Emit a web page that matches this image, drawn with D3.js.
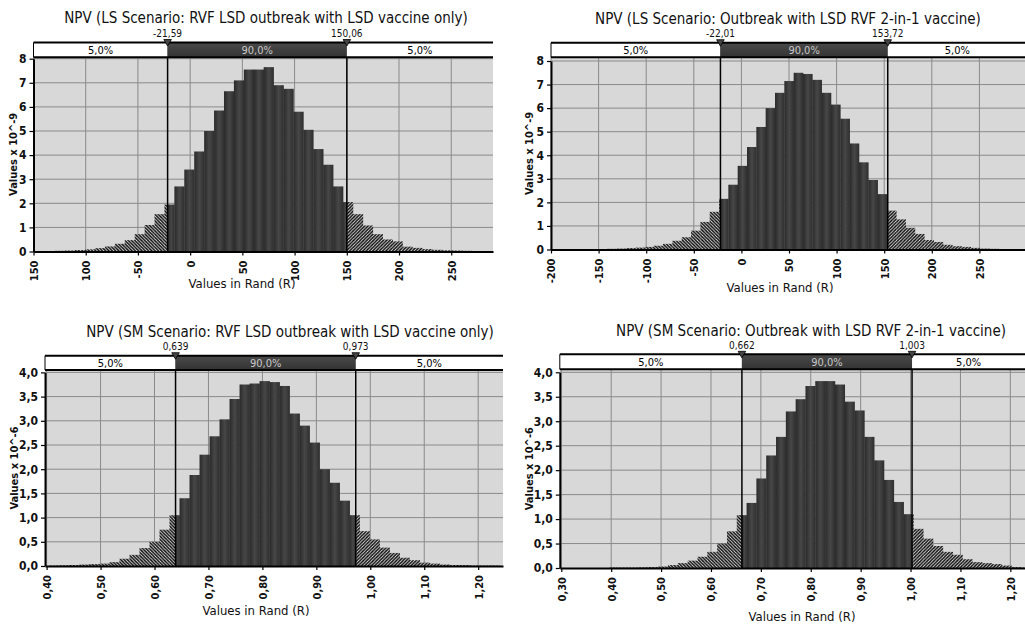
<!DOCTYPE html>
<html>
<head>
<meta charset="utf-8">
<script src="https://cdn.jsdelivr.net/npm/d3@7"></script>
<style>
  body { margin: 0; background: #fff; }
  svg { display: block; }
</style>
</head>
<body>
<script>
// chart values
const titles = [
  "NPV (LS Scenario: RVF LSD outbreak with LSD vaccine only)",
  "NPV (LS Scenario: Outbreak with LSD RVF 2-in-1 vaccine)",
  "NPV (SM Scenario: RVF LSD outbreak with LSD  vaccine only)",
  "NPV (SM Scenario: Outbreak with LSD RVF 2-in-1 vaccine)"
];
const xTitle = "Values in Rand (R)";
const yTitles = ["Values x 10^-9", "Values x 10^-9", "Values x 10^-6", "Values x 10^-6"];
const bandLabels = ["5,0%", "90,0%", "5,0%"];

const lowCuts = [-21.59, -22.01, 0.639, 0.662];
const highCuts = [150.06, 153.72, 0.973, 1.003];
const lowCutLabels = ["-21,59", "-22,01", "0,639", "0,662"];
const highCutLabels = ["150,06", "153,72", "0,973", "1,003"];

const xDomains = [[-150, 290], [-200, 300], [0.397, 1.246], [0.297, 1.23]];
const yMaxes = [8, 8, 4, 4];

const binStarts = [-138.6, -170.5, 0.4052, 0.3960];
const binWidths = [9.5, 9.8, 0.01855, 0.01967];

const heights1 = [0.02, 0.03, 0.04, 0.06, 0.09, 0.14, 0.21, 0.32, 0.47, 0.72, 1.1, 1.55,
  1.95, 2.7, 3.4, 4.15, 5.0, 5.85, 6.65, 7.1, 7.55, 7.55, 7.65, 6.9, 6.75, 5.8, 5.05, 4.25, 3.6, 2.7, 2.05,
  1.55, 1.08, 0.72, 0.5, 0.42, 0.2, 0.15, 0.1, 0.07, 0.05, 0.04, 0.03, 0.02];
const heights2 = [0.01, 0.02, 0.02, 0.03, 0.04, 0.06, 0.08, 0.11, 0.16, 0.24, 0.37, 0.52, 0.8, 1.17, 1.6,
  2.15, 2.75, 3.55, 4.35, 5.2, 6.0, 6.65, 7.15, 7.5, 7.45, 7.2, 6.65, 6.15, 5.55, 4.5, 3.7, 2.95, 2.35,
  1.65, 1.28, 0.92, 0.66, 0.4, 0.32, 0.2, 0.14, 0.11, 0.07, 0.04, 0.03, 0.02, 0.01];
const heights3 = [0.01, 0.015, 0.02, 0.03, 0.04, 0.05, 0.08, 0.15, 0.23, 0.37, 0.5, 0.75,
  1.05, 1.4, 1.88, 2.3, 2.68, 3.03, 3.45, 3.75, 3.77, 3.82, 3.8, 3.72, 3.15, 2.9, 2.55, 2.0, 1.72, 1.35, 1.05,
  0.72, 0.55, 0.38, 0.27, 0.17, 0.12, 0.07, 0.05, 0.03, 0.02, 0.02, 0.01, 0.01, 0.01];
const heights4 = [0.01, 0.01, 0.01, 0.015, 0.02, 0.03, 0.06, 0.1, 0.15, 0.23, 0.33, 0.5, 0.75,
  1.08, 1.33, 1.83, 2.3, 2.68, 3.2, 3.45, 3.72, 3.82, 3.82, 3.75, 3.4, 3.22, 2.68, 2.2, 1.8, 1.35, 1.1,
  0.8, 0.6, 0.45, 0.33, 0.27, 0.18, 0.12, 0.1, 0.08, 0.05, 0.02, 0.01];
const heights = [heights1, heights2, heights3, heights4];

const xTicks1 = [-150, -100, -50, 0, 50, 100, 150, 200, 250];
const xTickLabels1 = ["150", "100", "-50", "0", "50", "100", "150", "200", "250"];
const xTicks2 = [-200, -150, -100, -50, 0, 50, 100, 150, 200, 250];
const xTickLabels2 = ["-200", "-150", "-100", "-50", "0", "50", "100", "150", "200", "250"];
const xTicks3 = [0.4, 0.5, 0.6, 0.7, 0.8, 0.9, 1.0, 1.1, 1.2];
const xTickLabels3 = ["0,40", "0,50", "0,60", "0,70", "0,80", "0,90", "1,00", "1,10", "1,20"];
const xTicks4 = [0.3, 0.4, 0.5, 0.6, 0.7, 0.8, 0.9, 1.0, 1.1, 1.2];
const xTickLabels4 = ["0,30", "0,40", "0,50", "0,60", "0,70", "0,80", "0,90", "1,00", "1,10", "1,20"];
const xTicks = [xTicks1, xTicks2, xTicks3, xTicks4];
const xTickLabels = [xTickLabels1, xTickLabels2, xTickLabels3, xTickLabels4];

const yTicksLS = [0, 1, 2, 3, 4, 5, 6, 7, 8];
const yTickLabelsLS = ["0", "1", "2", "3", "4", "5", "6", "7", "8"];
const yTicksSM = [0, 0.5, 1, 1.5, 2, 2.5, 3, 3.5, 4];
const yTickLabelsSM = ["0,0", "0,5", "1,0", "1,5", "2,0", "2,5", "3,0", "3,5", "4,0"];
const yTicks = [yTicksLS, yTicksLS, yTicksSM, yTicksSM];
const yTickLabels = [yTickLabelsLS, yTickLabelsLS, yTickLabelsSM, yTickLabelsSM];

// layout of the four panels (pixels)
const layout = [
  {left: 33.5, right: 493, base: 251.5, yTop: 58.7, bandTop: 42.5, bandBot: 57.2, titleX: 266, titleY: 22.5, xtX: 242, xtY: 288, ytX: 13},
  {left: 551, right: 1027, base: 249.5, yTop: 61, bandTop: 42.7, bandBot: 57.3, titleX: 788, titleY: 23.5, xtX: 780, xtY: 292, ytX: 529},
  {left: 45, right: 503, base: 566, yTop: 372.4, bandTop: 355.7, bandBot: 370, titleX: 290, titleY: 336.5, xtX: 256, xtY: 615, ytX: 14},
  {left: 559.8, right: 1025.3, base: 568, yTop: 372.3, bandTop: 354.3, bandBot: 369.3, titleX: 811, titleY: 336, xtX: 802, xtY: 621, ytX: 529}
];

const font = "'DejaVu Sans Condensed', 'DejaVu Sans', sans-serif";
const W = 1025, H = 626;

const svg = d3.select("body").append("svg")
  .attr("width", W)
  .attr("height", H)
  .attr("viewBox", [0, 0, W, H])
  .style("font-family", font);

const defs = svg.append("defs");

// hatching for the tails
function hatch(id, d) {
  const p = defs.append("pattern")
    .attr("id", id)
    .attr("patternUnits", "userSpaceOnUse")
    .attr("width", 3.3).attr("height", 3.3);
  p.append("rect").attr("width", 3.3).attr("height", 3.3).attr("fill", "#e4e4e4");
  p.append("path").attr("d", d).attr("stroke", "#0c0c0c").attr("stroke-width", 1.45);
}
hatch("hatchL", "M-1,-1 L4.3,4.3 M-1,2.3 L1,4.3 M2.3,-1 L4.3,1");
hatch("hatchR", "M-1,4.3 L4.3,-1 M-1,1 L1,-1 M2.3,4.3 L4.3,2.3");

const grad = defs.append("linearGradient").attr("id", "barGrad")
  .attr("x1", 0).attr("x2", 1).attr("y1", 0).attr("y2", 0);
grad.append("stop").attr("offset", 0).attr("stop-color", "#2a2a2a");
grad.append("stop").attr("offset", 0.5).attr("stop-color", "#474747");
grad.append("stop").attr("offset", 1).attr("stop-color", "#2e2e2e");

const bandGrad = defs.append("linearGradient").attr("id", "bandGrad")
  .attr("x1", 0).attr("x2", 0).attr("y1", 0).attr("y2", 1);
bandGrad.append("stop").attr("offset", 0).attr("stop-color", "#4a4a4a");
bandGrad.append("stop").attr("offset", 1).attr("stop-color", "#333");

function drawPanel(i) {
  const L = layout[i];
  const lo = lowCuts[i], hi = highCuts[i];
  const x = d3.scaleLinear().domain(xDomains[i]).range([L.left, L.right]);
  const y = d3.scaleLinear().domain([0, yMaxes[i]]).range([L.base, L.yTop]);
  const g = svg.append("g");

  defs.append("clipPath").attr("id", "clip" + i)
    .append("rect")
    .attr("x", L.left).attr("y", L.bandBot)
    .attr("width", L.right - L.left).attr("height", L.base - L.bandBot);

  // plot background
  g.append("rect")
    .attr("x", L.left).attr("y", L.bandBot)
    .attr("width", L.right - L.left).attr("height", L.base - L.bandBot)
    .attr("fill", "#d8d8d8");

  // grid
  g.append("g").selectAll("line").data(xTicks[i]).join("line")
    .attr("x1", d => x(d)).attr("x2", d => x(d))
    .attr("y1", L.bandBot).attr("y2", L.base)
    .attr("stroke", "#8a8a8a").attr("stroke-width", 1);
  g.append("g").selectAll("line").data(yTicks[i].slice(1)).join("line")
    .attr("x1", L.left).attr("x2", L.right)
    .attr("y1", d => y(d)).attr("y2", d => y(d))
    .attr("stroke", "#8a8a8a").attr("stroke-width", 1);

  // bars split into hatched tails and the dark 90% part
  const segs = [];
  heights[i].forEach((h, k) => {
    const a = binStarts[i] + k * binWidths[i];
    const b = a + binWidths[i];
    if (a < lo) segs.push({a: a, b: Math.min(b, lo), h: h, fill: "url(#hatchL)"});
    if (b > lo && a < hi) segs.push({a: Math.max(a, lo), b: Math.min(b, hi), h: h, fill: "url(#barGrad)"});
    if (b > hi) segs.push({a: Math.max(a, hi), b: b, h: h, fill: "url(#hatchR)"});
  });
  g.append("g").attr("clip-path", "url(#clip" + i + ")")
    .selectAll("rect").data(segs).join("rect")
    .attr("x", d => x(d.a))
    .attr("width", d => x(d.b) - x(d.a) + 0.3)
    .attr("y", d => y(d.h))
    .attr("height", d => y(0) - y(d.h))
    .attr("fill", d => d.fill);

  // percentile lines
  g.append("g").selectAll("line").data([lo, hi]).join("line")
    .attr("x1", d => x(d)).attr("x2", d => x(d))
    .attr("y1", L.bandTop).attr("y2", L.base)
    .attr("stroke", "#000").attr("stroke-width", 1.5);

  // axes
  const xAxis = d3.axisBottom(x)
    .tickValues(xTicks[i])
    .tickFormat((d, k) => xTickLabels[i][k])
    .tickSize(4).tickSizeOuter(0);
  const gx = g.append("g").attr("transform", `translate(0,${L.base})`).call(xAxis);
  gx.select(".domain").attr("stroke", "#000").attr("stroke-width", 2);
  gx.selectAll(".tick line").attr("stroke", "#000").attr("stroke-width", 1.2);
  gx.selectAll(".tick text")
    .attr("transform", "rotate(-90)")
    .attr("text-anchor", "end")
    .attr("x", -9).attr("y", 0).attr("dy", "0.35em")
    .style("font-family", font)
    .style("font-size", "11px").style("font-weight", "bold").attr("fill", "#111");

  const yAxis = d3.axisLeft(y)
    .tickValues(yTicks[i])
    .tickFormat((d, k) => yTickLabels[i][k])
    .tickSize(4).tickPadding(3).tickSizeOuter(0);
  const gy = g.append("g").attr("transform", `translate(${L.left},0)`).call(yAxis);
  gy.select(".domain").attr("stroke", "#000").attr("stroke-width", 2);
  gy.selectAll(".tick line").attr("stroke", "#000").attr("stroke-width", 1.2);
  gy.selectAll(".tick text")
    .style("font-family", font)
    .style("font-size", "12px").style("font-weight", "bold").attr("fill", "#111");

  // band bar above the plot
  const bh = L.bandBot - L.bandTop;
  const band = g.append("g");
  const parts = [[L.left, x(lo)], [x(lo), x(hi)], [x(hi), L.right]];
  band.selectAll("rect").data(parts).join("rect")
    .attr("x", d => d[0]).attr("y", L.bandTop)
    .attr("width", d => d[1] - d[0]).attr("height", bh)
    .attr("fill", (d, k) => k === 1 ? "url(#bandGrad)" : "#fff");
  band.selectAll("text").data(parts).join("text")
    .attr("x", d => (d[0] + d[1]) / 2)
    .attr("y", L.bandTop + bh / 2 + 4)
    .attr("text-anchor", "middle")
    .style("font-size", "11px")
    .attr("fill", (d, k) => k === 1 ? "#c8c8c8" : "#000")
    .text((d, k) => bandLabels[k]);
  band.append("line")
    .attr("x1", L.left).attr("x2", L.right).attr("y1", L.bandTop).attr("y2", L.bandTop)
    .attr("stroke", "#000").attr("stroke-width", 2);
  band.append("line")
    .attr("x1", L.left).attr("x2", L.right).attr("y1", L.bandBot).attr("y2", L.bandBot)
    .attr("stroke", "#000").attr("stroke-width", 2);
  band.append("line")
    .attr("x1", L.left).attr("x2", L.left).attr("y1", L.bandTop).attr("y2", L.bandBot)
    .attr("stroke", "#000").attr("stroke-width", 1);

  // markers and cut values
  const cuts = [[lo, lowCutLabels[i]], [hi, highCutLabels[i]]];
  g.append("g").selectAll("path").data(cuts).join("path")
    .attr("d", d => {
      const cx = x(d[0]);
      return `M${cx - 3.8},${L.bandTop - 3} L${cx + 3.8},${L.bandTop - 3} L${cx},${L.bandTop + 3.5} Z`;
    })
    .attr("fill", "#444").attr("stroke", "#000").attr("stroke-width", 0.8);
  g.append("g").selectAll("text").data(cuts).join("text")
    .attr("x", d => x(d[0]))
    .attr("y", L.bandTop - 5.5)
    .attr("text-anchor", "middle")
    .style("font-size", "10px")
    .attr("fill", "#111")
    .text(d => d[1]);

  // titles
  g.append("text")
    .attr("x", L.titleX).attr("y", L.titleY)
    .attr("text-anchor", "middle")
    .style("font-size", "15px")
    .attr("fill", "#111")
    .text(titles[i]);
  g.append("text")
    .attr("x", L.xtX).attr("y", L.xtY)
    .attr("text-anchor", "middle")
    .style("font-size", "13px")
    .attr("fill", "#111")
    .text(xTitle);
  g.append("text")
    .attr("transform", `translate(${L.ytX + 4},${(L.bandBot + L.base) / 2}) rotate(-90)`)
    .attr("text-anchor", "middle")
    .style("font-size", "11px").style("font-weight", "bold")
    .attr("fill", "#111")
    .text(yTitles[i]);
}

[0, 1, 2, 3].forEach(drawPanel);
</script>
</body>
</html>
